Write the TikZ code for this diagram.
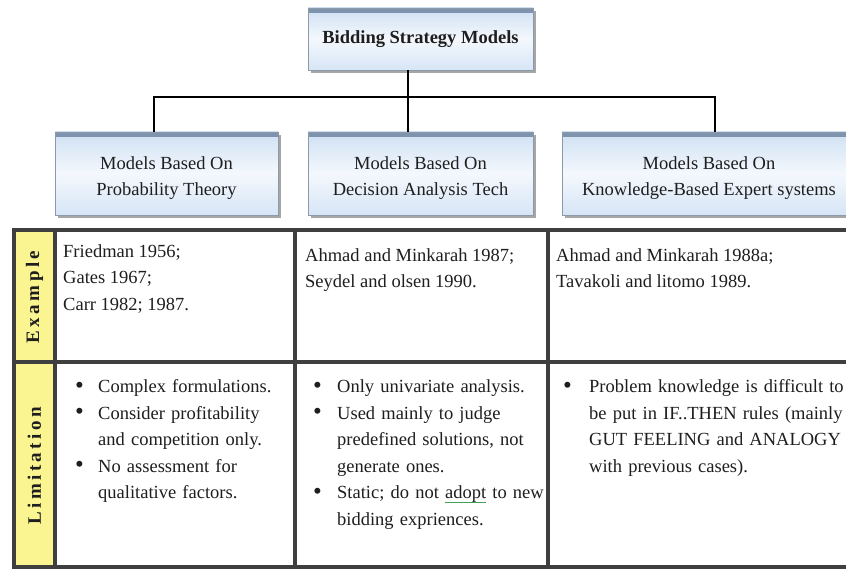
\documentclass[tikz,border=0pt]{standalone}
\usepackage{fontspec}
\setmainfont{Liberation Serif}
\definecolor{txt}{HTML}{1E1E1E}
\definecolor{boxtop}{HTML}{CFE0F3}
\definecolor{boxmid}{HTML}{F4F8FD}
\definecolor{boxbot}{HTML}{D6E5F6}
\definecolor{boxstrip}{HTML}{7E93AD}
\definecolor{boxedge}{HTML}{8C99A8}
\definecolor{labelyellow}{HTML}{FAF591}
\definecolor{gridline}{HTML}{3F3F3F}
\definecolor{sqgreen}{HTML}{3FA35A}
\newcommand\bitem[2]{\par\hangindent=#1\hangafter=1\noindent\makebox[#1][l]{\raisebox{-0.5pt}{\scalebox{1.35}{\textbullet}}}#2}
\newcommand\gsq[1]{\setbox0\hbox{#1}\rlap{\textcolor{sqgreen}{\rule[-4pt]{\wd0}{0.9pt}}}#1}
\begin{document}
\begin{tikzpicture}[x=1pt,y=-1pt,
  every node/.style={font=\fontsize{18.5}{26.5}\selectfont, text=txt, inner sep=0pt},
  modelbox/.style={draw=boxedge, line width=0.8pt, top color=boxtop, bottom color=boxbot,
    middle color=boxmid, align=center,
    preaction={fill=black!35, transform canvas={xshift=3pt,yshift=-3pt}},
    path picture={\fill[boxstrip] (path picture bounding box.north west) rectangle ([yshift=-5pt]path picture bounding box.north east);}},
  hdr/.style={label={[align=center, yshift=-4.5pt]center:#1}},
  conn/.style={draw=black, line width=2pt},
  gridl/.style={draw=gridline, line width=3.5pt},
  cell/.style={anchor=north west, align=left},
  limcell/.style={anchor=north west, text width=#1},
  sidelabel/.style={rotate=90, font=\fontsize{19}{22}\selectfont\bfseries\addfontfeature{LetterSpace=18}}
]
\clip (0,0) rectangle (846,569);
\fill[white] (0,0) rectangle (846,569);

% header boxes
\node[modelbox, minimum width=225pt, minimum height=62pt, font=\fontsize{18.5}{26.5}\selectfont\bfseries] (title) at (420.5,39) {Bidding Strategy Models};
\node[modelbox, minimum width=223pt, minimum height=83pt, hdr={Models Based On\\Probability Theory}] (m1) at (166.5,173.5) {};
\node[modelbox, minimum width=225pt, minimum height=83pt, hdr={Models Based On\\Decision Analysis Tech}] (m2) at (420.5,173.5) {};
\node[modelbox, minimum width=294pt, minimum height=83pt, hdr={Models Based On\\Knowledge-Based Expert systems}] (m3) at (709,173.5) {};

% connectors
\coordinate (hub) at (408,97);
\coordinate (barL) at (154,97);
\coordinate (barR) at (715,97);
\draw[conn] (title.south -| hub) -- (hub);
\draw[conn, line cap=rect] (barL) -- (barR);
\draw[conn] (barL) -- (m1.north -| barL);
\draw[conn] (hub) -- (m2.north -| hub);
\draw[conn] (barR) -- (m3.north -| barR);

% table
\fill[labelyellow] (14,230) rectangle (55,567);
\draw[gridl] (12.25,230) -- (860,230);
\draw[gridl] (12.25,362) -- (860,362);
\draw[gridl] (12.25,567) -- (860,567);
\foreach \xx in {14,55,295,548} {\draw[gridl] (\xx,230) -- (\xx,567);}

\node[sidelabel] (lex) at (34.5,297) {Example};
\node[sidelabel] (llim) at (34.5,466) {Limitation};

\node[cell] (ex1) at (63,244) {Friedman 1956;\\Gates 1967;\\Carr 1982; 1987.};
\node[cell] (ex2) at (305,248) {Ahmad and Minkarah 1987;\\Seydel and olsen 1990.};
\node[cell] (ex3) at (556,248) {Ahmad and Minkarah 1988a;\\Tavakoli and litomo 1989.};

\node[limcell=240pt] (lim1) at (75,366) {\raggedright%
  \bitem{23pt}{Complex formulations.}%
  \bitem{23pt}{Consider profitability\newline and competition only.}%
  \bitem{23pt}{No assessment for\newline qualitative factors.}\par};
\node[limcell=240pt] (lim2) at (313,366) {\raggedright%
  \bitem{24pt}{Only univariate analysis.}%
  \bitem{24pt}{Used mainly to judge\newline predefined solutions, not\newline generate ones.}%
  \bitem{24pt}{Static; do not \gsq{adopt} to new\newline bidding expriences.}\par};
\node[limcell=300pt] (lim3) at (563,366) {\raggedright%
  \bitem{26pt}{Problem knowledge is difficult to\newline be put in IF..THEN rules (mainly\newline GUT FEELING and ANALOGY\newline with previous cases).}\par};
\end{tikzpicture}
\end{document}
